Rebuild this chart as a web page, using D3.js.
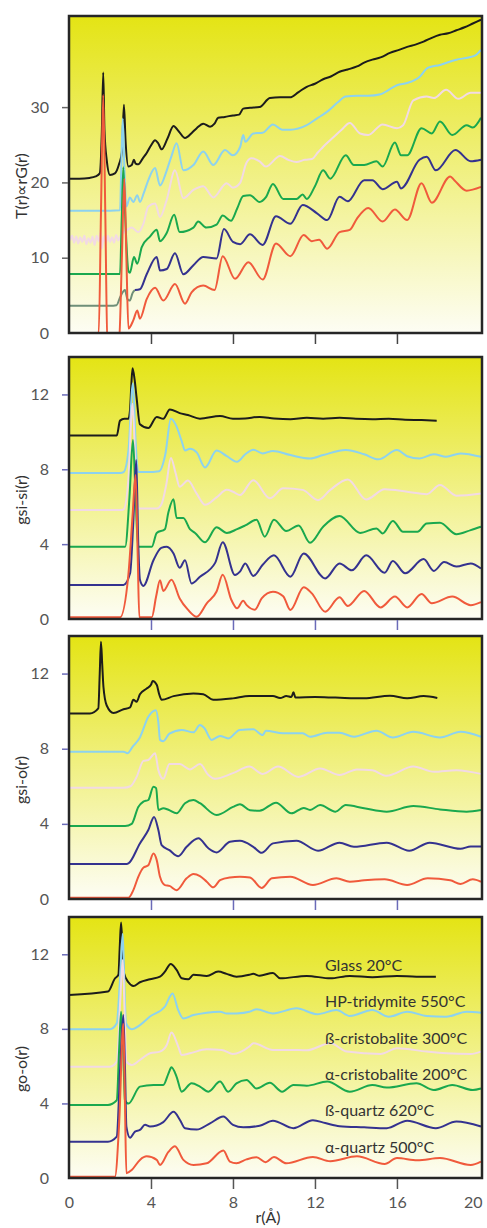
<!DOCTYPE html>
<html lang="en">
<head>
<meta charset="utf-8">
<title>Silica pair distribution functions</title>
<script src="https://d3js.org/d3.v7.min.js"></script>
<style>
body { margin: 0; background: #fff; font-family: Lato, "Open Sans", sans-serif; }
.tick text { fill: #555; font-size: 16px; font-family: Lato, "Open Sans", sans-serif; }
.ytitle { fill: #333; font-size: 16px; }
.legend { fill: #333; font-size: 16px; }
</style>
</head>
<body>
<div id="chart"></div>
<script>

// phases, top to bottom
var phases = ["Glass 20°C", "HP-tridymite 550°C", "ß-cristobalite 300°C",
              "α-cristobalite 200°C", "ß-quartz 620°C", "α-quartz 500°C"];
var colors = ["#1c1c1c", "#8dd2ef", "#f2dae4", "#1aa84e", "#34328f", "#f05a3c"];
var leadColor = "#6f8f78";

var xTicks = [0, 4, 8, 12, 16, 20];
var yTicksT = [0, 10, 20, 30];
var yTicksG = [0, 4, 8, 12];

// ---- T(r) ----
var trGlass = [[0,20.5],[0.5,20.5],[1.0,20.6],[1.3,20.8],[1.5,21.2],[1.6,26.5],[1.67,34.6],[1.73,27],[1.84,23.0],[2.0,21.0],[2.24,21.2],[2.45,22.5],[2.58,24],[2.68,30.3],[2.76,25.5],[2.9,22.1],[3.06,22.3],[3.17,23.0],[3.25,22.5],[3.38,22.4],[3.6,23.2],[3.79,23.9],[4.0,24.9],[4.2,25.6],[4.35,25.2],[4.52,24.4],[4.8,25.8],[5.1,27.5],[5.35,26.8],[5.66,25.9],[6.0,26.6],[6.23,27.2],[6.55,27.8],[6.88,27.4],[7.1,27.8],[7.28,28.6],[7.6,28.7],[8.0,28.9],[8.3,29.0],[8.5,29.8],[8.83,29.9],[9.3,30.0],[9.8,31.2],[10.3,31.3],[10.78,31.3],[11.2,32.0],[11.6,32.7],[12.0,33.1],[12.4,33.7],[12.8,34.1],[13.2,34.7],[13.6,35.0],[14.05,35.4],[14.4,35.9],[14.8,36.3],[15.2,36.6],[15.66,37.2],[16.1,37.6],[16.5,38.0],[16.9,38.3],[17.3,38.7],[17.7,39.2],[18.1,39.6],[18.5,39.8],[18.9,40.2],[19.3,40.6],[19.7,41.1],[20.1,41.6]];
var trHpt = [[0,16.25],[1.0,16.25],[2.0,16.25],[2.49,16.3],[2.55,22],[2.62,28.5],[2.7,22],[2.8,16.8],[2.97,18.0],[3.14,17.4],[3.33,18.3],[3.46,17.4],[3.65,18.6],[3.87,20.3],[4.2,21.9],[4.44,19.6],[4.77,21.6],[5.0,23.5],[5.25,25.2],[5.58,21.6],[6.07,22.3],[6.55,24.1],[7.04,22.3],[7.61,24.3],[8.0,23.6],[8.35,24.7],[8.5,26.3],[8.6,25.4],[8.99,26.5],[9.45,26.6],[9.95,27.7],[10.4,27.0],[10.8,27.0],[11.6,27.6],[12.1,28.5],[12.6,29.4],[13.1,30.6],[13.5,31.4],[14.05,31.5],[14.6,31.5],[15.2,31.7],[15.6,32.3],[16.0,32.9],[16.5,33.2],[17.1,34.0],[17.5,35.2],[18.1,35.6],[18.9,36.3],[19.5,36.6],[19.85,36.9],[20.1,37.6]];
var trBct = [[0.05,12.3],[0.15,12.9],[0.25,12.0],[0.35,12.8],[0.45,11.9],[0.55,12.7],[0.65,12.1],[0.75,12.9],[0.85,11.8],[0.95,12.6],[1.05,12.0],[1.15,12.8],[1.25,11.7],[1.35,12.9],[1.45,12.2],[1.55,13.4],[1.6,11.2],[1.7,12.8],[1.8,12.0],[1.9,12.9],[2.0,12.1],[2.1,12.7],[2.2,12.0],[2.3,13.0],[2.4,12.3],[2.5,12.8],[2.6,13.2],[2.8,13.6],[3.06,14.0],[3.38,13.4],[3.63,14.5],[3.87,16.8],[4.2,17.2],[4.44,15.4],[4.77,17.7],[5.17,21.6],[5.58,17.9],[6.07,19.0],[6.55,19.5],[7.04,18.0],[7.69,19.9],[8.0,19.3],[8.34,19.9],[8.66,22.6],[8.9,23.2],[9.3,22.8],[9.6,22.1],[10.3,23.5],[10.7,23.0],[11.1,22.7],[11.5,23.0],[11.85,23.1],[12.15,24.0],[12.5,25.0],[12.9,26.0],[13.3,27.0],[13.7,27.9],[14.2,26.5],[14.6,26.3],[15.3,27.7],[16.0,27.2],[16.3,27.6],[16.8,30.9],[17.45,31.4],[17.8,31.2],[18.4,32.3],[19.0,31.1],[19.6,31.9],[20.1,31.9]];
var trAct = [[0,7.83],[1,7.83],[2,7.83],[2.49,7.85],[2.57,15],[2.65,22.0],[2.75,15],[2.9,8.2],[2.97,8.0],[3.17,10.1],[3.33,9.2],[3.55,11.4],[3.95,12.8],[4.28,13.7],[4.44,12.2],[4.77,13.3],[5.13,15.7],[5.4,13.4],[6.07,14.0],[6.3,14.8],[6.7,14.0],[7.2,14.4],[7.5,15.6],[7.9,14.9],[8.2,16.5],[8.5,18.2],[8.83,18.3],[9.3,17.4],[9.6,18.0],[9.95,19.8],[10.45,17.8],[11.1,17.8],[11.4,18.4],[11.6,17.8],[12.0,19.5],[12.4,21.6],[12.75,20.5],[13.5,23.6],[13.9,22.3],[14.4,22.3],[15.0,22.8],[15.3,22.1],[15.9,25.3],[16.2,23.6],[16.5,23.6],[17.2,27.2],[17.7,26.5],[18.1,28.1],[18.7,26.3],[19.4,27.6],[19.7,27.3],[20.1,28.6]];
var trBqLead = [[0,3.63],[1,3.63],[2,3.63],[2.32,3.7],[2.5,4.8],[2.73,5.7],[2.85,4.5],[2.97,4.3],[3.1,5.3],[3.22,5.7]];
var trBq = [[3.22,5.7],[3.46,5.8],[3.79,7.8],[4.28,10.1],[4.44,8.3],[4.77,8.5],[5.17,10.6],[5.58,7.8],[6.07,9.0],[6.55,10.1],[7.2,9.9],[7.56,13.8],[8.0,12.1],[8.35,11.8],[8.83,13.1],[9.45,11.7],[10.1,15.5],[10.8,14.5],[11.4,17.0],[12.1,15.9],[12.6,15.0],[13.2,18.1],[13.6,17.5],[14.4,20.3],[14.8,20.3],[15.3,19.1],[16.0,20.1],[16.2,19.2],[17.1,23.0],[17.45,23.4],[17.9,21.6],[18.85,24.3],[19.6,22.8],[20.1,23.0]];
var trAq = [[0,0],[1.0,0],[1.45,0],[1.56,16],[1.67,31.6],[1.77,16],[1.87,-0.5],[2.2,-1],[2.45,-0.5],[2.58,10],[2.7,20.5],[2.8,10],[2.9,0.6],[3.14,1.7],[3.33,3.0],[3.46,1.9],[3.79,4.5],[4.2,6.0],[4.6,4.3],[5.17,6.5],[5.66,3.9],[5.98,5.4],[6.55,6.3],[7.1,5.7],[7.5,10.2],[8.1,7.2],[8.75,9.4],[9.45,7.1],[10.1,11.9],[10.8,10.2],[11.45,13.0],[11.85,12.2],[12.2,12.4],[12.6,11.2],[13.2,13.4],[13.7,13.7],[14.05,15.2],[14.6,16.6],[15.3,14.8],[15.9,16.4],[16.5,15.0],[17.2,19.9],[17.7,17.3],[18.6,20.8],[18.8,20.3],[19.4,18.9],[20.1,19.4]];

// ---- gSi-Si(r) ----
var ssGlass = [[0,9.8],[1,9.8],[2.33,9.8],[2.49,10.6],[2.7,10.7],[2.9,10.7],[2.98,11.2],[3.04,12.5],[3.1,13.4],[3.2,12.8],[3.3,11.8],[3.46,10.4],[3.87,10.2],[4.28,10.8],[4.6,10.7],[4.92,11.2],[5.4,11.0],[5.8,10.9],[6.39,10.7],[7.37,10.85],[8.0,10.7],[8.6,10.72],[9.3,10.8],[10.0,10.72],[10.8,10.68],[11.6,10.75],[12.4,10.7],[13.2,10.75],[14.0,10.7],[14.8,10.68],[15.6,10.7],[16.4,10.65],[17.2,10.63],[17.94,10.6]];
var ssHpt = [[0,7.8],[1,7.8],[2.5,7.8],[2.66,7.85],[2.9,9.0],[3.12,12.6],[3.25,9.5],[3.37,7.85],[3.8,7.85],[4.4,7.9],[4.7,8.8],[4.97,10.7],[5.2,10.4],[5.5,9.5],[5.66,9.0],[5.9,9.1],[6.23,8.9],[6.64,8.1],[7.2,9.0],[7.7,8.7],[8.2,8.4],[8.6,8.8],[8.99,9.05],[9.45,8.85],[9.95,8.98],[10.8,8.76],[11.76,8.58],[12.4,8.76],[13.5,9.03],[14.4,8.8],[15.1,8.53],[16.0,9.03],[16.5,8.7],[17.1,8.58],[17.8,8.8],[18.4,8.67],[19.1,8.85],[20.1,8.67]];
var ssBct = [[0,5.82],[1,5.82],[2.5,5.82],[2.66,5.85],[2.9,7.5],[3.1,11.5],[3.25,8.0],[3.37,5.9],[4.28,5.9],[4.5,6.1],[4.75,7.2],[4.97,8.6],[5.2,7.8],[5.4,7.07],[5.8,7.4],[6.23,6.7],[6.64,6.1],[7.2,6.5],[7.7,6.9],[8.0,6.8],[8.34,6.62],[8.99,7.42],[9.8,6.45],[10.45,6.98],[11.4,6.9],[12.15,6.35],[12.75,6.9],[13.6,7.46],[14.5,6.39],[15.4,6.93],[16.5,6.8],[17.45,6.67],[18.1,7.16],[18.9,6.59],[20.1,6.71]];
var ssAct = [[0,3.86],[2.74,3.86],[2.95,6.5],[3.12,9.56],[3.25,6.5],[3.37,3.86],[4.04,3.86],[4.28,4.6],[4.68,4.8],[4.85,5.7],[5.1,6.4],[5.25,5.4],[5.58,5.4],[5.9,4.8],[6.15,4.6],[6.64,4.1],[7.2,4.9],[7.7,4.6],[8.2,4.8],[8.6,5.0],[9.15,5.3],[9.55,4.4],[10.0,5.3],[10.6,4.7],[11.2,5.0],[11.76,4.07],[12.4,4.93],[13.2,5.5],[14.2,4.6],[15.0,4.84],[15.3,4.57],[15.8,5.24],[16.3,4.66],[17.0,4.66],[17.45,5.1],[18.1,5.14],[18.9,4.53],[19.6,4.75],[20.1,4.93]];
var ssBq = [[0,1.82],[2.66,1.82],[2.98,2.44],[3.13,5],[3.28,8.5],[3.38,4],[3.46,2.1],[3.63,1.77],[4.12,3.14],[4.5,3.8],[4.77,3.86],[5.1,3.5],[5.4,2.74],[5.66,3.14],[5.98,1.9],[6.39,2.26],[7.13,3.0],[7.5,4.1],[8.1,2.35],[8.34,2.53],[8.6,2.97],[8.99,2.3],[9.45,2.9],[10.0,3.4],[10.8,2.26],[11.45,3.5],[12.5,2.17],[13.2,2.97],[13.8,2.6],[14.5,3.4],[15.4,2.47],[15.8,3.1],[16.4,2.44],[17.3,3.2],[17.8,2.57],[18.3,3.04],[18.9,2.8],[19.6,2.97],[20.1,2.7]];
var ssAq = [[0,0.09],[2.49,0.09],[2.9,2.4],[3.1,5.5],[3.25,7.7],[3.35,3.5],[3.43,0.1],[4.04,0.1],[4.25,1.2],[4.44,2.07],[4.6,1.5],[5.0,2.1],[5.4,1.1],[5.8,0.5],[6.23,0.12],[6.72,0.84],[7.2,1.47],[7.5,2.36],[7.93,1.0],[8.2,0.57],[8.5,0.98],[8.67,0.74],[9.07,0.5],[9.4,1.1],[9.95,1.46],[10.45,1.22],[10.8,0.48],[11.45,1.7],[11.85,1.37],[12.5,0.39],[13.2,1.16],[13.6,0.7],[14.4,1.5],[15.2,0.62],[15.9,1.2],[16.5,0.62],[17.2,1.34],[17.7,0.84],[18.7,1.2],[19.6,0.74],[20.1,0.9]];

// ---- gSi-O(r) ----
var soGlass = [[0,9.88],[1.02,9.88],[1.43,10.15],[1.5,12],[1.56,13.7],[1.62,12.5],[1.68,11.3],[1.84,10.3],[2.17,9.9],[2.66,10.1],[2.98,10.2],[3.14,10.6],[3.3,10.5],[3.46,10.9],[3.79,11.2],[4.0,11.4],[4.08,11.6],[4.28,11.4],[4.4,10.9],[4.52,10.6],[5.1,10.8],[6.07,10.94],[6.55,10.9],[7.04,10.6],[8.0,10.68],[8.8,10.8],[9.95,10.8],[10.3,10.7],[10.6,10.8],[10.85,10.75],[10.95,11.0],[11.05,10.72],[12.0,10.75],[13.0,10.72],[14.4,10.68],[15.66,10.82],[16.5,10.68],[17.3,10.8],[17.97,10.7]];
var soHpt = [[0,7.84],[2.66,7.84],[2.85,7.76],[3.1,8.1],[3.46,8.6],[3.87,9.7],[4.24,10.05],[4.36,9.4],[4.44,8.47],[4.6,8.4],[4.9,8.8],[5.5,9.0],[6.07,8.87],[6.39,9.26],[6.6,9.1],[6.96,8.47],[7.37,8.68],[7.77,8.55],[8.33,9.0],[8.99,9.03],[9.45,8.73],[9.6,8.95],[10.45,8.82],[11.4,8.82],[11.76,8.64],[12.6,8.85],[13.2,8.85],[13.9,8.64],[15.0,8.96],[15.8,8.6],[16.8,8.9],[18.1,8.6],[19.1,8.9],[20.1,8.64]];
var soBct = [[0,5.92],[2.66,5.92],[3.0,6.0],[3.3,6.5],[3.63,7.35],[3.87,7.4],[4.2,7.76],[4.36,6.86],[4.6,6.4],[4.9,7.18],[5.4,7.18],[5.9,6.9],[6.39,7.18],[6.8,6.6],[7.13,6.4],[8.0,6.7],[8.8,7.05],[9.45,6.66],[10.2,7.05],[11.2,6.5],[12.25,6.95],[13.2,6.6],[14.05,6.9],[14.8,6.85],[15.5,6.56],[16.8,7.05],[17.8,6.77],[18.9,6.86],[20.1,6.66]];
var soAct = [[0,3.88],[2.74,3.88],[3.06,4.0],[3.38,4.9],[3.63,5.18],[3.87,5.27],[4.12,5.98],[4.25,5.9],[4.36,4.74],[4.6,4.83],[4.85,4.75],[5.25,4.56],[5.66,5.1],[6.07,5.27],[6.39,5.1],[7.2,4.47],[8.0,4.9],[8.34,5.05],[8.83,4.73],[9.3,4.7],[10.1,5.13],[10.85,4.56],[11.45,4.85],[11.76,4.74],[12.25,5.0],[13.0,4.65],[13.5,5.0],[14.4,4.83],[15.5,4.65],[16.8,4.95],[18.1,4.77],[19.4,4.65],[20.1,4.74]];
var soBq = [[0,1.86],[2.74,1.86],[2.9,1.9],[3.46,2.96],[3.87,3.67],[4.15,4.37],[4.36,3.67],[4.52,2.87],[4.9,2.6],[5.33,2.28],[5.74,2.78],[6.31,3.23],[6.8,2.7],[7.2,2.48],[7.85,3.05],[8.34,3.1],[8.99,2.78],[9.4,2.46],[9.95,2.96],[11.1,3.1],[12.15,2.57],[13.2,3.0],[13.9,2.78],[15.5,3.0],[16.6,2.57],[17.6,3.0],[19.1,2.67],[19.6,2.8],[20.1,2.8]];
var soAq = [[0,0.07],[2.9,0.07],[3.15,0.5],[3.38,1.18],[3.63,1.67],[3.87,1.8],[4.12,2.42],[4.28,2.07],[4.44,1.18],[4.68,0.74],[4.9,0.7],[5.25,0.47],[5.74,1.1],[6.07,1.33],[6.39,1.22],[6.72,0.92],[7.04,0.62],[7.37,1.0],[7.85,1.15],[8.34,1.19],[8.83,1.15],[9.4,0.59],[9.9,1.1],[10.8,1.19],[11.9,0.75],[13.05,1.1],[13.7,0.92],[14.4,1.0],[15.4,1.05],[16.5,0.75],[17.5,1.1],[18.6,1.0],[19.1,0.8],[19.7,1.05],[20.1,0.92]];

// ---- gO-O(r) ----
var ooGlass = [[0,9.82],[1.9,10.0],[2.24,10.7],[2.41,10.9],[2.48,12.5],[2.54,13.7],[2.61,12.3],[2.68,11.0],[2.9,10.5],[3.14,10.3],[3.46,10.5],[3.95,10.66],[4.44,10.8],[4.68,11.07],[4.96,11.48],[5.25,11.16],[5.5,10.71],[5.82,10.66],[6.07,10.9],[6.72,10.84],[7.28,11.07],[7.69,10.95],[8.17,10.8],[8.8,10.9],[8.99,10.95],[9.3,10.85],[9.95,11.0],[10.3,10.71],[11.6,10.84],[12.75,10.71],[13.7,10.84],[14.8,10.77],[16.0,10.84],[16.95,10.8],[17.9,10.8]];
var ooHpt = [[0,7.98],[2.0,7.98],[2.33,8.3],[2.48,10.5],[2.62,13.1],[2.7,10.5],[2.78,8.3],[3.06,7.98],[3.46,8.2],[3.95,8.66],[4.68,9.2],[5.05,9.9],[5.33,9.0],[5.58,8.56],[6.07,8.74],[6.72,8.87],[7.37,8.92],[7.7,8.82],[8.17,8.83],[8.8,8.92],[9.15,9.05],[9.95,8.83],[11.1,9.1],[12.1,8.79],[13.05,9.01],[13.7,8.69],[14.8,9.01],[15.6,8.65],[16.5,8.92],[17.45,8.69],[18.4,8.65],[19.4,8.92],[20.1,8.87]];
var ooBct = [[0,5.97],[2.0,5.97],[2.33,6.24],[2.5,9.5],[2.62,11.7],[2.71,9.0],[2.8,6.24],[3.06,6.06],[3.46,6.33],[3.95,6.69],[4.44,6.78],[4.77,7.13],[5.0,7.8],[5.33,7.05],[5.5,6.6],[5.9,6.69],[6.72,6.9],[7.45,6.87],[8.0,6.65],[8.8,7.05],[9.0,7.23],[9.95,6.87],[10.8,6.87],[11.6,6.85],[12.75,7.23],[13.55,6.78],[15.2,6.65],[16.0,6.96],[17.45,6.78],[18.4,6.69],[19.6,6.65],[20.1,6.78]];
var ooAct = [[0,3.92],[1.9,3.92],[2.33,4.17],[2.45,7],[2.54,8.92],[2.64,7],[2.73,4.17],[2.9,3.99],[3.46,4.9],[4.12,4.99],[4.6,4.99],[4.85,5.6],[5.0,5.94],[5.25,5.43],[5.5,4.63],[5.98,5.08],[6.39,4.9],[6.8,4.63],[7.37,5.17],[7.77,4.63],[8.17,5.08],[8.66,5.26],[9.15,4.8],[9.8,5.11],[10.4,4.63],[10.95,4.99],[11.6,4.95],[12.6,5.17],[13.7,4.63],[14.8,4.99],[15.5,4.85],[16.95,5.08],[17.8,4.72],[18.7,4.99],[19.7,4.72],[20.1,4.8]];
var ooBq = [[0,1.95],[1.9,1.95],[2.33,2.22],[2.5,6],[2.65,8.74],[2.73,6],[2.8,2.76],[2.98,2.16],[3.22,2.49],[3.46,2.58],[3.71,2.85],[3.95,2.76],[4.6,3.0],[5.1,3.55],[5.42,3.1],[5.66,2.67],[6.23,2.6],[6.88,2.93],[7.53,3.3],[8.0,2.85],[8.5,2.72],[9.3,2.8],[9.95,3.07],[10.95,2.67],[11.9,3.1],[12.5,2.95],[13.2,2.78],[14.4,2.72],[15.5,2.67],[16.5,3.07],[17.9,2.67],[18.9,3.03],[20.1,2.76]];
var ooAq = [[0,0.07],[2.24,0.07],[2.45,3],[2.65,8.28],[2.73,4],[2.8,0.25],[3.06,0.43],[3.46,0.97],[3.79,1.16],[4.28,0.97],[4.44,0.7],[4.85,1.4],[5.17,1.7],[5.58,0.97],[6.07,0.7],[6.72,0.79],[7.53,1.47],[7.85,0.88],[8.17,0.79],[8.66,1.0],[9.15,1.11],[9.6,0.85],[10.0,1.13],[10.6,0.79],[11.9,1.13],[12.75,0.9],[14.05,1.16],[15.4,0.75],[16.0,1.07],[17.0,0.95],[18.1,1.07],[19.6,0.7],[20.1,0.88]];

var W = 487, H = 1228;

var svg = d3.select("#chart").append("svg")
    .attr("width", W)
    .attr("height", H);

// yellow to white background, one gradient reused by every panel
var grad = svg.append("defs").append("linearGradient")
    .attr("id", "bg")
    .attr("x1", 0).attr("y1", 0).attr("x2", 0).attr("y2", 1);
grad.append("stop").attr("offset", "0%").attr("stop-color", "#e4e414");
grad.append("stop").attr("offset", "100%").attr("stop-color", "#fdfdf4");

var x = d3.scaleLinear().domain([0, 20.15]).range([69, 482]);

var panels = [
  {top: 16,  bottom: 333,  ymax: 42.1, ticks: yTicksT, title: "T(r)∝rG(r)", titleY: 186,
   lines: [trGlass, trHpt, trBct, trAct, trBq, trAq], lead: trBqLead, tickColor: "#666", xTickColor: "#444"},
  {top: 357, bottom: 619,  ymax: 14, ticks: yTicksG, title: "gsi-si(r)", titleY: 500,
   lines: [ssGlass, ssHpt, ssBct, ssAct, ssBq, ssAq], tickColor: "#6b6bb8", xTickColor: "#6b6bb8"},
  {top: 636, bottom: 899,  ymax: 14, ticks: yTicksG, title: "gsi-o(r)", titleY: 780,
   lines: [soGlass, soHpt, soBct, soAct, soBq, soAq], tickColor: "#6b6bb8", xTickColor: "#6b6bb8"},
  {top: 917, bottom: 1178, ymax: 14, ticks: yTicksG, title: "go-o(r)", titleY: 1069,
   lines: [ooGlass, ooHpt, ooBct, ooAct, ooBq, ooAq], tickColor: "#6b6bb8", xTickColor: "#555", last: true}
];

var line = d3.line()
    .x(function(d) { return x(d[0]); })
    .curve(d3.curveMonotoneX);

panels.forEach(function(p, i) {
  var y = d3.scaleLinear().domain([0, p.ymax]).range([p.bottom, p.top]);
  line.y(function(d) { return y(d[1]); });

  svg.append("clipPath").attr("id", "clip" + i)
    .append("rect")
      .attr("x", x(0)).attr("y", p.top)
      .attr("width", x(20.15) - x(0)).attr("height", p.bottom - p.top);

  svg.append("rect")
      .attr("x", x(0)).attr("y", p.top)
      .attr("width", x(20.15) - x(0)).attr("height", p.bottom - p.top)
      .attr("fill", "url(#bg)");

  var g = svg.append("g").attr("clip-path", "url(#clip" + i + ")");
  if (p.lead) {
    g.append("path").attr("d", line(p.lead))
      .attr("fill", "none").attr("stroke", leadColor).attr("stroke-width", 2);
  }
  p.lines.forEach(function(d, k) {
    g.append("path").attr("d", line(d))
      .attr("fill", "none")
      .attr("stroke", colors[k])
      .attr("stroke-width", 2)
      .attr("stroke-linejoin", "round");
  });

  // frame
  svg.append("rect")
      .attr("x", x(0)).attr("y", p.top)
      .attr("width", x(20.15) - x(0)).attr("height", p.bottom - p.top)
      .attr("fill", "none").attr("stroke", "#262626").attr("stroke-width", 2.5);

  // y axis
  var ya = svg.append("g")
      .attr("transform", "translate(" + (x(0) - 1) + ",0)")
      .call(d3.axisLeft(y).tickValues(p.ticks).tickSize(6).tickPadding(13));
  ya.select(".domain").remove();
  ya.selectAll(".tick line").attr("stroke", p.tickColor).attr("stroke-width", 1.5)
    .filter(function(d) { return d === 0; }).remove();

  // x axis
  var xa = svg.append("g")
      .attr("transform", "translate(0," + (p.bottom + 1) + ")")
      .call(d3.axisBottom(x).tickValues(xTicks).tickSize(10).tickPadding(8));
  xa.select(".domain").remove();
  xa.selectAll(".tick line").attr("stroke", p.xTickColor).attr("stroke-width", 1.5)
    .filter(function(d) { return d === 0 || d === 20; }).remove();
  if (!p.last) xa.selectAll(".tick text").remove();
  else xa.selectAll(".tick text").filter(function(d) { return d === 20; })
    .attr("text-anchor", "end").attr("dx", "0.2em");

  svg.append("text")
      .attr("class", "ytitle")
      .attr("transform", "translate(27," + p.titleY + ") rotate(-90)")
      .attr("text-anchor", "middle")
      .text(p.title);

  if (p.last) {
    phases.forEach(function(name, k) {
      svg.append("text")
        .attr("class", "legend")
        .attr("x", 325)
        .attr("y", 971 + k * 36.3)
        .text(name);
    });
    svg.append("text")
      .attr("class", "ytitle")
      .attr("x", 268).attr("y", 1223)
      .attr("text-anchor", "middle")
      .text("r(Å)");
  }
});

</script>
</body>
</html>
